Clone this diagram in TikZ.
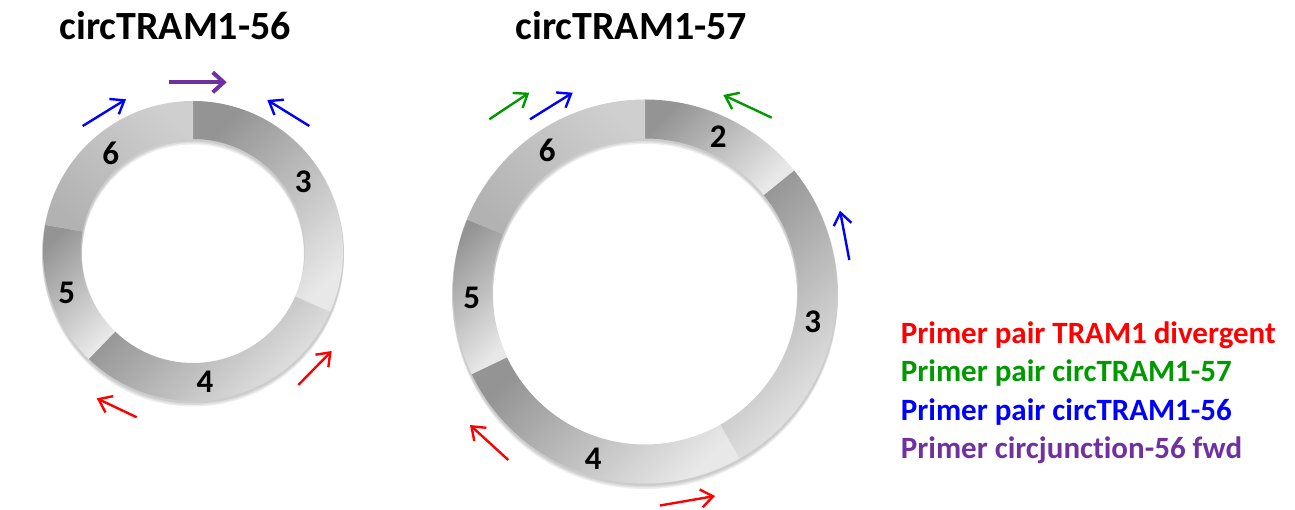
\documentclass[tikz,border=0pt]{standalone}
\usepackage{fontspec}
\setmainfont{Carlito}[Ligatures=NoCommon]
\usetikzlibrary{calc,arrows.meta}
\definecolor{pgreen}{HTML}{009A00}
\definecolor{ppurple}{HTML}{7030A0}
\newcommand{\annseg}[6]{\path[#6] ($(#1)+(#4:#2pt)$) arc[start angle=#4, end angle=#5, radius=#2pt] -- ($(#1)+(#5:#3pt)$) arc[start angle=#5, end angle=#4, radius=#3pt] -- cycle;}
\tikzset{
  segdark/.style={top color=black!42, bottom color=black!9, shading angle=45},
  seglight/.style={top color=black!19, bottom color=black!30, shading angle=-45},
  shadowring/.style={fill=black, opacity=0.07, even odd rule},
  primer/.style={line width=2.4pt, -{Straight Barb[length=12pt, width=18pt]}},
  primerbold/.style={line width=4pt, -{Straight Barb[length=11pt, width=20pt]}},
  title/.style={font=\bfseries\fontsize{40}{48}\selectfont, anchor=base, inner sep=0pt},
  exon/.style={font=\bfseries\fontsize{33}{40}\selectfont, inner sep=0pt},
  legend/.style={font=\bfseries\fontsize{31}{38}\selectfont, anchor=base west, inner sep=0pt}
}
\begin{document}
\begin{tikzpicture}[x=1pt,y=1pt]
\useasboundingbox (0,0) rectangle (1295,510);
% centres
\coordinate (cL) at (193,259);
\coordinate (cR) at (645,218.5);
% shadows
\foreach \d in {1.5,3,4.5}{
  \fill[shadowring] ($(cL)+(0,-\d)$) circle (151pt) ($(cL)+(0,-\d)$) circle (111pt);
  \fill[shadowring] ($(cR)+(0,-\d)$) circle (193pt) ($(cR)+(0,-\d)$) circle (152pt);
}
% left ring
\annseg{cL}{150}{112}{-24}{90}{segdark}
\annseg{cL}{150}{112}{226}{336}{segdark}
\annseg{cL}{150}{112}{170}{226}{segdark}
\annseg{cL}{150}{112}{90}{170}{seglight}
% right ring
\annseg{cR}{192}{153}{39}{90}{segdark}
\annseg{cR}{192}{153}{-60.5}{39}{segdark}
\annseg{cR}{192}{153}{205.5}{299.5}{segdark}
\annseg{cR}{192}{153}{158}{205.5}{segdark}
\annseg{cR}{192}{153}{90}{158}{seglight}
% titles
\node[title] (t56) at (175.3,470.7) {circTRAM1-56};
\node[title] (t57) at (631.5,470.7) {circTRAM1-57};
% exon labels left
\node[exon] (l6) at (110.7,356.7) {6};
\node[exon] (l3) at (303.3,328.3) {3};
\node[exon] (l5) at (66.7,216.7) {5};
\node[exon] (l4) at (205,128.3) {4};
% exon labels right
\node[exon] (r2) at (718.3,373.3) {2};
\node[exon] (r6) at (547.3,360) {6};
\node[exon] (r5) at (471.7,211.7) {5};
\node[exon] (r3) at (812.7,188.3) {3};
\node[exon] (r4) at (593.3,51.7) {4};
% primer coordinates, left ring
\coordinate (pa1) at (169.3,427.7); \coordinate (pa2) at (226.7,427.7);
\coordinate (ba1) at (82.7,384);    \coordinate (ba2) at (126,410.7);
\coordinate (bb1) at (309.3,384);   \coordinate (bb2) at (267.3,410);
\coordinate (ra1) at (298.3,125);   \coordinate (ra2) at (331.7,159);
\coordinate (rb1) at (136.7,92.7);  \coordinate (rb2) at (96.7,111.7);
% primer coordinates, right ring
\coordinate (ga1) at (489.3,390.7); \coordinate (ga2) at (529.3,417.3);
\coordinate (bc1) at (530,390.7);   \coordinate (bc2) at (572.7,417.3);
\coordinate (gb1) at (771.7,392.3); \coordinate (gb2) at (723.3,415);
\coordinate (bd1) at (849.3,250);   \coordinate (bd2) at (840,299.3);
\coordinate (rc1) at (508.3,50);    \coordinate (rc2) at (470,85);
\coordinate (rd1) at (660,4.5);     \coordinate (rd2) at (715,14);
% primers
\draw[primerbold, ppurple] (pa1) -- (pa2);
\draw[primer, blue] (ba1) -- (ba2);
\draw[primer, blue] (bb1) -- (bb2);
\draw[primer, red] (ra1) -- (ra2);
\draw[primer, red] (rb1) -- (rb2);
\draw[primer, pgreen] (ga1) -- (ga2);
\draw[primer, blue] (bc1) -- (bc2);
\draw[primer, pgreen] (gb1) -- (gb2);
\draw[primer, blue] (bd1) -- (bd2);
\draw[primer, red] (rc1) -- (rc2);
\draw[primer, red] (rd1) -- (rd2);
% legend
\node[legend, red] (lg1) at (900.7,166.7) {Primer pair TRAM1 divergent};
\node[legend, pgreen] (lg2) at (900.7,128.2) {Primer pair circTRAM1-57};
\node[legend, blue] (lg3) at (900.7,89.7) {Primer pair circTRAM1-56};
\node[legend, ppurple] (lg4) at (900.7,51.2) {Primer circjunction-56 fwd};
\end{tikzpicture}
\end{document}
